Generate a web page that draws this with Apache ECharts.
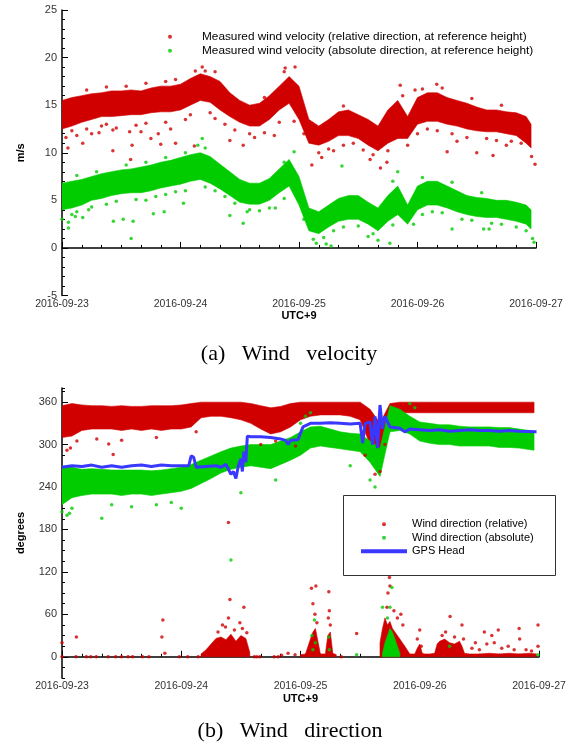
<!DOCTYPE html>
<html><head><meta charset="utf-8">
<script src="https://cdn.jsdelivr.net/npm/echarts@6/dist/echarts.min.js"></script>
<style>html,body{margin:0;padding:0;background:#fff}#c{width:569px;height:743px}</style>
</head><body><div id="c"></div><script>
// ---- tick labels / categories ----
const dayLabels = ['2016-09-23','2016-09-24','2016-09-25','2016-09-26','2016-09-27'];
const dirTicks = [0,60,120,180,240,300,360];

// ---- hours since 2016-09-23 00:00 (UTC+9) for the dense bands ----
const bandHours = [0,2,4,6,8,10,12,14,16,18,20,22,24,26,28,30,32,34,36,38,40,42,44,46,48,50,52,54,56,58,60,62,64,66,68,70,72,74,76,78,80,82,84,86,88,90,92,94,95];

// (a) wind velocity, m/s: dense lower / upper edge of the dot clouds
const relVelLo = [12.5,12.8,13.2,13.5,13.8,13.8,13.9,14.0,14.0,14.2,14.3,14.3,14.5,15.0,15.5,15.3,14.5,13.8,13.2,12.8,12.8,13.5,14.5,15.2,13.5,11.0,10.8,11.2,11.8,11.8,11.5,10.8,10.2,11.0,11.5,11.5,13.0,13.3,13.3,13.0,12.8,12.5,12.3,12.2,12.2,12.0,11.8,11.0,10.5];
const relVelHi = [15.5,15.8,16.0,16.2,16.3,16.5,16.5,16.6,16.5,16.8,17.0,17.0,17.2,17.8,18.3,18.0,17.5,16.3,15.5,15.0,15.2,16.0,17.0,18.0,17.0,13.5,12.8,13.5,14.3,14.5,14.0,13.5,12.8,14.5,15.5,13.8,15.8,16.3,16.3,15.8,15.5,15.2,14.8,14.5,14.5,14.3,14.2,13.8,13.0];
const absVelLo = [4.0,4.2,4.5,5.0,5.2,5.5,5.7,5.8,5.8,6.0,6.3,6.5,6.7,7.0,7.2,6.8,6.2,5.5,4.8,4.6,4.6,5.0,5.8,6.5,4.5,1.8,1.5,2.2,2.8,3.0,3.0,2.5,1.8,2.8,3.5,2.5,4.0,4.5,4.5,4.2,3.8,3.5,3.3,3.2,3.2,3.0,2.8,2.5,2.0];
const absVelHi = [6.8,7.0,7.2,7.5,7.8,8.0,8.2,8.3,8.5,8.7,9.0,9.2,9.5,9.8,10.0,9.6,8.8,8.0,7.2,6.8,6.8,7.3,8.3,9.3,7.5,4.2,3.8,4.5,5.2,5.5,5.5,4.8,4.2,5.5,6.5,4.5,6.5,7.0,7.0,6.5,6.0,5.5,5.3,5.2,5.0,5.0,4.8,4.5,4.0];
// scattered single readings [hour, m/s]
const relVelOut = [[0.8,11.6],[1.2,10.5],[4.2,11],[7.5,12.1],[10.3,10.2],[10.3,12.4],[13.7,12.2],[13.9,9.3],[14.2,10.8],[20,10.9],[19.5,12.0],[23,11],[26.8,10.7],[28.4,19],[29,18.6],[34,11.3],[35,12.4],[36.7,10.8],[43,11.8],[45.2,18.9],[47.2,19],[47,13.3],[50.6,8.7],[52.6,9.5],[55,10.2],[62.4,9.3],[64.5,8.4],[65.8,9.0],[68.5,17.1],[71.5,16.6],[75.9,17.2],[78,10.1],[80,11.2],[84,10],[87.3,9.7],[90,10.8],[95.1,9.6],[95.8,8.8],
  [2,12.3],[3,11.8],[5,12.5],[6,12.0],[8,12.8],[9,13.0],[11,12.6],[15,12.9],[16,12.2],[17,13.1],[18,11.5],[21,13.2],[22,12.5],[25,13.5],[26,14.0],[30,14.2],[31,13.6],[33,13.0],[38,12.0],[39,11.6],[41,12.1],[44,13.2],[49,12.0],[52,10.0],[54,10.4],[57,10.8],[59,11.0],[61,10.3],[63,9.8],[66,10.2],[70,10.8],[72,12.0],[74,12.5],[76,12.3],[79,12.0],[82,11.6],[86,11.5],[88,11.3],[91,11.2],[93,11.0],
  [5,16.6],[9,16.9],[13,17.0],[17,17.3],[21,17.5],[23,17.7],[27,18.6],[31,18.5],[41,15.8],[45,18.5],[57,14.9],[69,16.0],[73,16.7],[77,16.8],[83,15.7],[89,15.0]];
const absVelOut = [[0,3],[1.3,2.1],[1.3,2.7],[2.7,3.3],[4.2,3.2],[5.4,4],[10.4,2.8],[12.4,3],[14.4,2.8],[14,1],[18.5,3.6],[20.7,3.8],[24.6,4.7],[28.4,11.5],[27.5,10.8],[34,3.4],[36.7,2.6],[37.5,3.8],[43.2,4.2],[47,10.1],[50.9,0.9],[51.5,0.5],[53.5,0.4],[54.5,0.2],[53,1.1],[56.7,8.6],[62,1.2],[64,0.8],[66.4,0.5],[68,8.0],[71.2,2.5],[79,2],[85.4,2],[86.5,2],[95.6,0.6],[95.3,1.0],
  [2,3.5],[3,3.8],[6,4.3],[9,4.6],[11,4.9],[15,5.1],[17,5.0],[19,5.4],[21,5.6],[23,5.9],[25,6.0],[29,6.4],[31,6.0],[33,5.4],[35,4.7],[38,4.0],[40,3.9],[42,4.2],[45,5.2],[49,3.0],[55,1.8],[57,2.2],[60,2.3],[63,1.5],[67,2.4],[73,3.5],[75,3.8],[77,3.7],[81,3.0],[83,2.9],[87,2.6],[89,2.5],[92,2.2],[94,1.8],
  [3,7.6],[7,8.0],[13,8.7],[17,9.0],[21,9.5],[25,10.0],[29,10.5],[45,9.0],[67,7.0],[73,7.4],[79,6.9],[85,5.8]];

// (b) wind direction, degrees
const relDirLo = [310,312,320,322,322,322,320,322,320,322,320,322,322,325,338,340,340,338,335,330,322,315,318,325,335,340,342,342,342,340,335,300,275,320,345,345,345,345,345,345,345,345,345,345,345,345,345,345,345];
const relDirHi = [355,358,356,355,355,354,355,354,354,355,355,355,356,358,360,360,360,360,360,358,355,352,354,358,360,360,360,360,360,360,360,350,330,358,360,360,360,360,360,360,360,360,360,360,360,360,360,360,360];
const absDirLo = [215,225,228,230,230,230,228,230,230,228,230,232,234,238,245,252,260,265,268,270,268,266,272,278,285,295,298,296,294,292,290,275,255,318,320,315,305,302,300,300,298,298,298,298,296,296,295,293,292];
const absDirHi = [270,268,265,266,265,264,264,264,264,263,264,266,268,272,278,284,290,295,298,300,300,300,305,310,318,325,326,322,318,316,315,305,295,355,350,340,332,330,328,328,326,325,325,325,324,324,322,320,318];
// readings wrapped past 360 -> near 0 : dense top of the cluster (null = no cluster)
const relZeroHours = [28,29,30,31,32,33,34,35,36,37,37.8,38.5,48,49,50,50.5,51,51.5,52,53,53.5,54,54.5,55.2,56,64,64.5,65,65.5,66,66.5,67,67.5,68,68.5,69,70,71,71.5,72,72.5,73,74,75,75.5,76,77,78,79,80,80.5,81,82,84,86,88,90,92,94,95.5];
const relZeroTop   = [4,10,18,26,28,24,32,22,30,26,6,null,3,4,25,35,40,22,4,4,30,35,5,3,null,20,40,55,45,50,40,35,30,25,20,15,4,4,12,18,5,4,4,5,18,22,25,20,18,22,15,5,4,4,5,4,5,4,5,4];
const absZeroHours = [64.5,65,65.5,66,66.5,67,67.5,68];
const absZeroTop   = [5,20,30,40,35,25,15,5];
const relDirOut = [[0,20],[0,0],[2.8,0],[2.9,28],[4.9,0],[5.8,0],[6.9,0],[9.3,0],[10.8,0],[12,0],[13.3,0],[14.2,0],[16.2,0],[17.5,0],[20.1,28],[20.3,52],[20.7,5],[23.6,0],[25.3,0],[27.4,0],[29.6,10],[31.4,35],[32.3,45],[32.9,42],[33.8,81],[33.5,55],[34.7,38],[35.8,48],[36.6,70],[36.3,40],[37.2,34],[38.7,0],[39.2,0],[39.8,0],[42.7,0],[43.5,0],[44.2,2],[45.5,5],[46.9,3],[50.2,97],[50.5,75],[51.1,100],[50.9,60],[51.3,48],[53.7,92],[53.8,65],[53.6,55],[54,45],[56.2,0],[59.3,33],[65.9,112],[66,100],[65.6,90],[65.4,70],[66.8,65],[67.5,55],[68.2,60],[68.6,45],[71.5,25],[72,38],[72.3,15],[76.5,30],[77.2,35],[78.1,57],[79,28],[80.5,45],[80.8,25],[82.5,12],[83.2,20],[84,10],[85,35],[85.5,18],[86.5,30],[87,20],[87.8,38],[88.5,12],[89.8,15],[91,10],[92,40],[92.1,25],[93.4,10],[94.5,8],[95.8,45],[95.8,15],[33.5,190],[1,292],[1.7,295],[9.4,301],[10.3,286],[3,305],[7,308],[12,306],[19,310],[27,318],[40,300],[43,305],[61,285],[63,258],[64,262],[65,300],[47,298]];
const absDirOut = [[0,205],[1,200],[1.5,203],[2,210],[8,196],[10,215],[14,212],[19,215],[22,218],[24,210],[34,137],[36,232],[43,250],[45,300],[48,330],[49,340],[50,345],[50.3,30],[50.5,10],[50.8,52],[51,20],[53.7,28],[53.8,10],[58,270],[59.3,3],[62,250],[63,240],[64.5,70],[66.4,98],[66,70],[65.5,55],[70,358],[71,352],[78,15],[95.8,3]];
// GPS heading line
const gpsHours = [0,2,4,6,8,10,12,14,16,18,20,22,24,25.5,26,26.5,27,29,31,32,33,34,34.5,35,35.5,36,36.3,36.6,37,37.3,38,40,42,44,45,45.5,46,47.5,48.5,50,52,54,56,58,60,60.5,61,62,62.5,63,63.5,64,64.5,65,66,68,69,70,72,74,76,78,80,82,84,86,88,90,92,95.5];
const gpsHead  = [268,270,269,271,268,270,268,270,271,269,271,270,270,270,284,282,268,269,270,268,272,258,262,252,270,280,262,290,275,312,311,311,310,308,306,300,306,307,325,330,330,331,330,329,330,302,330,332,300,340,295,356,322,340,325,323,318,322,321,320,321,319,320,321,320,320,319,320,319,318];

const RED = '#d00000', GREEN = '#00cc00', BLUE = '#3838ff';
const LEG1 = 'Measured wind velocity (relative direction, at reference height)';
const LEG2 = 'Measured wind velocity (absolute direction, at reference height)';
const LEG3 = 'Wind direction (relative)', LEG4 = 'Wind direction (absolute)', LEG5 = 'GPS Head';

// dense part of a dot cloud: one filled polygon per unbroken run between lo and hi,
// every vertex placed through the axis scales (api.coord)
function band(id, hours, lo, hi, color, xi, yi) {
  return {name:id, type:'custom', xAxisIndex:xi, yAxisIndex:yi, silent:true, clip:true,
    data: hours.map((h,i)=>[h, Array.isArray(lo)?lo[i]:lo, hi[i]==null?NaN:hi[i]]),
    encode:{x:0, y:[1,2]},
    renderItem(params, api) {
      const n = params.dataInsideLength;
      const ok = j => j>=0 && j<n && ![0,1,2].some(d=>{const v=api.value(d,j); return v==null||isNaN(v);});
      const i = params.dataIndexInside;
      if (!ok(i) || ok(i-1)) return null;           // only the first item of a run draws
      const top=[], bot=[];
      for (let j=i; ok(j); j++) {
        bot.push(api.coord([api.value(0,j), api.value(1,j)]));
        top.push(api.coord([api.value(0,j), api.value(2,j)]));
      }
      if (top.length < 2) return null;
      return {type:'polygon', shape:{points: bot.concat(top.reverse())},
              style:{fill:color, stroke:color, lineWidth:0.6}};
    }};
}
function dots(name, pts, color, xi, yi) {
  return {name, type:'scatter', xAxisIndex:xi, yAxisIndex:yi, symbolSize:3.5, silent:true,
    data: pts, itemStyle:{color}};
}

const axisLine = {show:true, lineStyle:{color:'#000', width:1.5}};
const labelStyle = {fontFamily:'Liberation Sans', fontSize:11, color:'#333'};
const nameStyle = {fontFamily:'Liberation Sans', fontSize:11, fontWeight:'bold', color:'#000'};
const capStyle = {fontFamily:'Liberation Serif', fontSize:22, fontWeight:'normal', color:'#000'};
function xAx(gi) {
  return {type:'value', gridIndex:gi, min:0, max:96, interval:24, axisLine,
    axisTick:{show:true, inside:true, length:6, lineStyle:{color:'#000', width:1}},
    minorTick:{show:true, splitNumber:6, length:3, lineStyle:{color:'#000', width:1}},
    splitLine:{show:false}, minorSplitLine:{show:false},
    axisLabel:{...labelStyle, fontSize:10.5, margin:3, formatter:v=>dayLabels[Math.round(v/24)]},
    name:'UTC+9', nameLocation:'middle', nameGap:15, nameTextStyle:nameStyle};
}

const option = {
  animation:false,
  backgroundColor:'#fff',
  title:[
    {text:'(a)   Wind   velocity', left:284, top:338, textAlign:'center', textStyle:capStyle},
    {text:'(b)   Wind   direction', left:285, top:715, textAlign:'center', textStyle:capStyle}
  ],
  grid:[
    {left:62, top:10, width:474, height:285.5},
    {left:62, top:388, width:477, height:290}
  ],
  xAxis:[xAx(0), xAx(1)],
  yAxis:[
    {type:'value', gridIndex:0, min:-5, max:25, interval:5, axisLine,
     axisTick:{show:true, inside:true, length:6, lineStyle:{color:'#000'}},
     minorTick:{show:true, splitNumber:5, length:3, lineStyle:{color:'#000'}},
     splitLine:{show:false}, axisLabel:{...labelStyle, margin:5},
     name:'m/s', nameLocation:'middle', nameGap:36, nameRotate:90, nameTextStyle:nameStyle},
    {type:'value', gridIndex:1, position:'left', min:-30, max:380, axisLine,
     axisTick:{show:true, inside:true, length:6, lineStyle:{color:'#000'}, customValues:dirTicks},
     splitLine:{show:false}, axisLabel:{...labelStyle, margin:5, customValues:dirTicks},
     name:'degrees', nameLocation:'middle', nameGap:36, nameRotate:90, nameTextStyle:nameStyle},
    {type:'value', gridIndex:1, position:'left', offset:0, min:-30, max:380, interval:15, axisLine:{show:false},
     axisTick:{show:true, inside:true, length:3, lineStyle:{color:'#000'}},
     splitLine:{show:false}, axisLabel:{show:false}}
  ],
  legend:[
    {orient:'vertical', left:168, top:29.7, padding:0, itemGap:0, itemWidth:54, itemHeight:4, z:10,
     textStyle:{fontFamily:'Liberation Sans', fontSize:11.8, color:'#000', lineHeight:14},
     data:[{name:LEG1, icon:'circle'}, {name:LEG2, icon:'circle'}], selectedMode:false},
    {orient:'vertical', left:361, top:517.5, padding:0, itemGap:0, itemWidth:46, itemHeight:4, z:10,
     textStyle:{fontFamily:'Liberation Sans', fontSize:11, color:'#000', lineHeight:13.5},
     data:[{name:LEG3, icon:'circle'}, {name:LEG4, icon:'circle'}, {name:LEG5, icon:'rect'}], selectedMode:false}
  ],
  graphic:[{type:'rect', shape:{x:343.5, y:495.5, width:212, height:80},
    style:{fill:'#fff', stroke:'#333', lineWidth:1}, z:3}],
  series:[
    band('relVelBand', bandHours, relVelLo, relVelHi, RED, 0, 0),
    dots(LEG1, relVelOut, RED, 0, 0),
    band('absVelBand', bandHours, absVelLo, absVelHi, GREEN, 0, 0),
    dots(LEG2, absVelOut, GREEN, 0, 0),
    band('relDirBand', bandHours, relDirLo, relDirHi, RED, 1, 1),
    band('relZeroBand', relZeroHours, 0, relZeroTop, RED, 1, 1),
    dots(LEG3, relDirOut, RED, 1, 1),
    band('absDirBand', bandHours, absDirLo, absDirHi, GREEN, 1, 1),
    band('absZeroBand', absZeroHours, 0, absZeroTop, GREEN, 1, 1),
    dots(LEG4, absDirOut, GREEN, 1, 1),
    {name:LEG5, type:'line', xAxisIndex:1, yAxisIndex:1, symbol:'none', silent:true,
     data: gpsHours.map((h,i)=>[h, gpsHead[i]]), lineStyle:{color:BLUE, width:3}, itemStyle:{color:BLUE}}
  ]
};
const chart = echarts.init(document.getElementById('c'), null, {renderer:'canvas'});
chart.setOption(option);
</script></body></html>
